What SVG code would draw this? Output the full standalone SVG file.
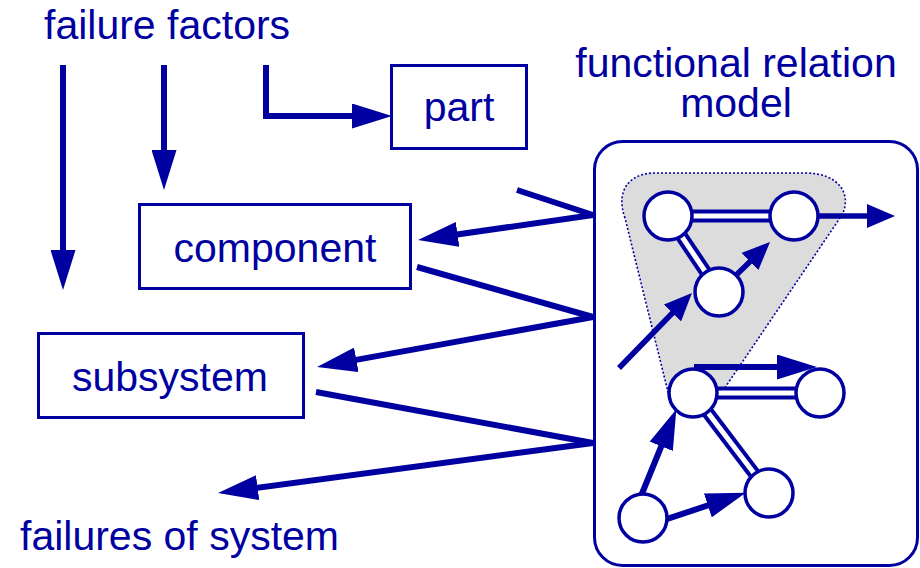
<svg xmlns="http://www.w3.org/2000/svg" width="920" height="568" viewBox="0 0 920 568">
  <style>
    .lbl { font-family: "Liberation Sans", Arial, Helvetica, sans-serif; font-size: 41px; fill: #0000a0; }
    .mid { text-anchor: middle; }
    .box { fill: #ffffff; stroke: #0000a0; stroke-width: 3; }
    .wire { fill: none; stroke: #0000a0; stroke-width: 6; stroke-linejoin: miter; }
    .arr { fill: none; stroke: #0000a0; stroke-width: 6; marker-end: url(#ah); }
    .arrs { fill: none; stroke: #0000a0; stroke-width: 5.5; marker-end: url(#ahs); }
    .dbl-o { stroke: #0000a0; stroke-width: 13; }
    .dbl-i { stroke: #ffffff; stroke-width: 5; }
    .node { fill: #ffffff; stroke: #0000a0; stroke-width: 3.5; }
  </style>
  <defs>
    <marker id="ah" markerUnits="userSpaceOnUse" markerWidth="40" markerHeight="25" refX="20" refY="12.5" orient="auto" viewBox="0 0 40 25">
      <path d="M0,0 L40,12.5 L0,25 z" fill="#0000a0"/>
    </marker>
    <marker id="ahs" markerUnits="userSpaceOnUse" markerWidth="28" markerHeight="24" refX="14" refY="12" orient="auto" viewBox="0 0 28 24">
      <path d="M0,0 L28,12 L0,24 z" fill="#0000a0"/>
    </marker>
  </defs>

  <!-- headings -->
  <text class="lbl" x="44" y="39">failure factors</text>
  <text class="lbl" x="20" y="550">failures of system</text>
  <g id="model-title">
    <text class="lbl mid" x="736" y="77">functional relation</text>
    <text class="lbl mid" x="736" y="117">model</text>
  </g>

  <!-- hierarchy boxes -->
  <g id="part">
    <rect class="box" x="391.5" y="65.5" width="135" height="83"/>
    <text class="lbl mid" x="459" y="121">part</text>
  </g>
  <g id="component">
    <rect class="box" x="139.5" y="204.5" width="271" height="84"/>
    <text class="lbl mid" x="275" y="262">component</text>
  </g>
  <g id="subsystem">
    <rect class="box" x="38.5" y="333.5" width="265" height="84"/>
    <text class="lbl mid" x="170" y="391">subsystem</text>
  </g>

  <!-- functional relation model frame -->
  <g id="model">
    <rect class="box" x="594.5" y="141.5" width="323" height="424" rx="28" ry="28"/>
    <!-- shaded group around the upper three elements -->
    <path d="M625,218 C615,190 630,173 655,173 L805,173 C840,173 852,195 842,215 L722,392 L668,392 Z"
          fill="#dcdcdc" stroke="#0000a0" stroke-width="1.6" stroke-dasharray="2 2"/>
  </g>

  <!-- connectors -->
  <g id="connectors">
    <path class="arr" d="M63,65 V270"/>
    <path class="arr" d="M164,65 V170"/>
    <path class="arr" d="M266,65 V116 H372"/>

    <path class="wire" d="M517,190 L593,215"/>
    <path class="arr" d="M593,215 L437.8,237.2"/>
    <path class="wire" d="M417,267 L593,317"/>
    <path class="arr" d="M593,317 L336.7,363.4"/>
    <path class="wire" d="M316,392 L593,443"/>
    <path class="arr" d="M593,443 L237.8,490.4"/>

    <!-- couplings inside the model -->
    <line class="dbl-o" x1="668" y1="216" x2="794" y2="216"/>
    <line class="dbl-i" x1="668" y1="216" x2="794" y2="216"/>
    <line class="dbl-o" x1="668" y1="216" x2="719" y2="292"/>
    <line class="dbl-i" x1="668" y1="216" x2="719" y2="292"/>
    <line class="dbl-o" x1="693" y1="393" x2="820" y2="393"/>
    <line class="dbl-i" x1="693" y1="393" x2="820" y2="393"/>
    <line class="dbl-o" x1="693" y1="393" x2="769" y2="493"/>
    <line class="dbl-i" x1="693" y1="393" x2="769" y2="493"/>

    <path class="arrs" d="M794,216 L881,216"/>
    <path class="arrs" d="M725,286 L760,251.8"/>
    <path class="arrs" d="M619,368 L682.2,303"/>
    <path class="arr" d="M694,367 L797,367"/>
    <path class="arr" d="M641,496 L668.8,427.8"/>
    <path class="arr" d="M665,519.7 L726.8,499.1"/>
  </g>

  <!-- model elements -->
  <g id="node-a"><circle class="node" cx="668" cy="216" r="24"/></g>
  <g id="node-b"><circle class="node" cx="794" cy="216" r="24"/></g>
  <g id="node-c"><circle class="node" cx="719" cy="292" r="24"/></g>
  <g id="node-d"><circle class="node" cx="693" cy="393" r="24"/></g>
  <g id="node-e"><circle class="node" cx="820" cy="393" r="24"/></g>
  <g id="node-f"><circle class="node" cx="769" cy="493" r="24"/></g>
  <g id="node-g"><circle class="node" cx="643" cy="518" r="24"/></g>
</svg>
